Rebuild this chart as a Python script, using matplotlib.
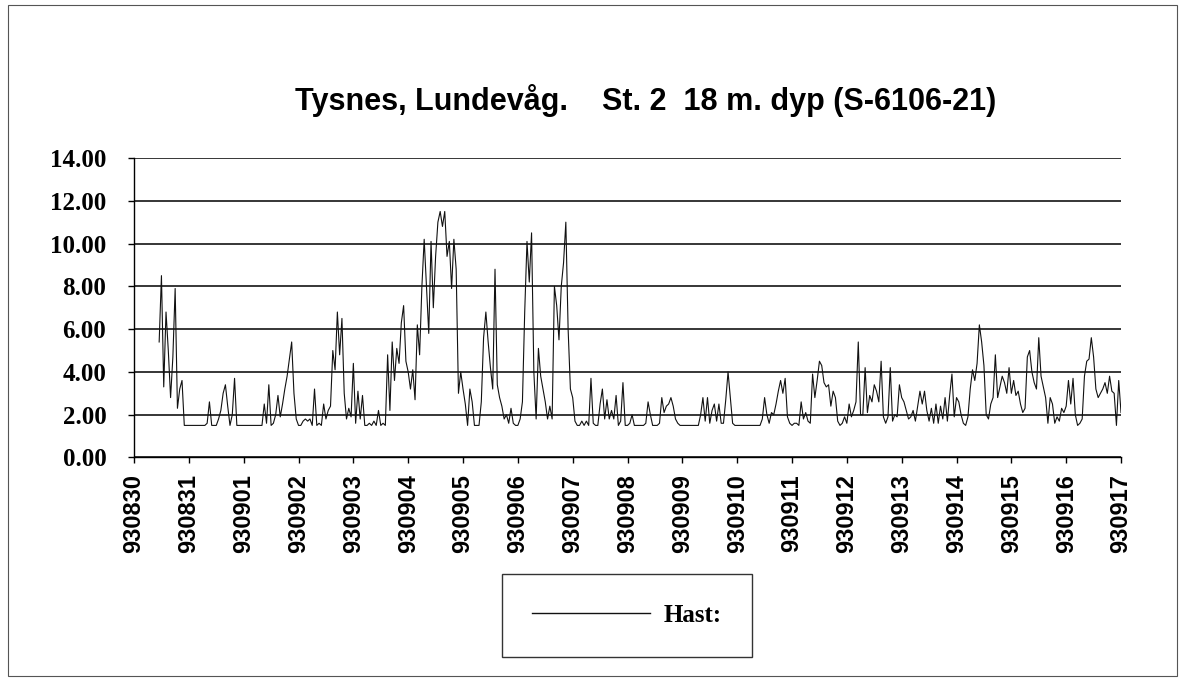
import numpy as np
import matplotlib
matplotlib.use("Agg")
import matplotlib.pyplot as plt
from matplotlib.patches import Rectangle

# hourly current speed readings (Hast:), first day starts at 11:00
start_hour = 11
d0830 = [5.4, 8.5, 3.3, 6.8, 5.0, 2.8, 4.7, 7.9, 2.3, 3.2, 3.6, 1.5, 1.5]
d0831 = [1.5] * 8 + [1.6, 2.6, 1.5, 1.5, 1.5, 1.8, 2.2, 3.0, 3.4, 2.4, 1.5, 2.0, 3.7, 1.5, 1.5, 1.5]
d0901 = [1.5] * 8 + [1.5, 2.5, 1.6, 3.4, 1.5, 1.6, 2.0, 2.9, 1.9, 2.5, 3.2, 3.8, 4.6, 5.4, 3.0, 1.8]
d0902 = [1.5, 1.5, 1.7, 1.8, 1.7, 1.8, 1.5, 3.2, 1.5, 1.6, 1.5, 2.5, 1.8, 2.2, 2.4, 5.0, 4.1, 6.8, 4.8, 6.5, 3.0, 1.8, 2.3, 1.9]
d0903 = [4.4, 1.6, 3.1, 1.8, 2.9, 1.5, 1.5, 1.6, 1.5, 1.7, 1.5, 2.2, 1.5, 1.6, 1.5, 4.8, 2.2, 5.4, 3.6, 5.1, 4.4, 6.3, 7.1, 4.5]
d0904 = [4.0, 3.2, 4.1, 2.7, 6.2, 4.8, 8.0, 10.2, 8.0, 5.8, 10.1, 7.0, 9.4, 11.0, 11.5, 10.8, 11.5, 9.4, 10.1, 7.9, 10.2, 8.8, 3.0, 4.0]
d0905 = [3.2, 2.5, 1.5, 3.2, 2.6, 1.5, 1.5, 1.5, 2.6, 5.6, 6.8, 5.4, 4.2, 3.2, 8.8, 3.4, 2.8, 2.4, 1.8, 2.0, 1.6, 2.3, 1.6, 1.5]
d0906 = [1.5, 1.8, 2.6, 6.8, 10.1, 8.2, 10.5, 4.0, 1.8, 5.1, 3.8, 3.2, 2.6, 1.8, 2.4, 1.8, 8.0, 7.1, 5.5, 8.0, 9.1, 11.0, 6.0, 3.2]
d0907 = [2.8, 1.7, 1.5, 1.5, 1.7, 1.5, 1.7, 1.5, 3.7, 1.6, 1.5, 1.5, 2.5, 3.2, 1.8, 2.7, 1.8, 2.2, 1.8, 2.9, 1.5, 1.7, 3.5, 1.5]
d0908 = [1.5, 1.6, 2.0, 1.5, 1.5, 1.5, 1.5, 1.5, 1.6, 2.6, 2.0, 1.5, 1.5, 1.5, 1.6, 2.8, 2.1, 2.4, 2.5, 2.8, 2.4, 1.8, 1.6, 1.5]
d0909 = [1.5] * 7 + [1.5, 2.0, 2.8, 1.7, 2.8, 1.6, 2.2, 2.5, 1.7, 2.5, 1.6, 1.6, 2.7, 4.0, 2.8, 1.6, 1.5]
d0910 = [1.5] * 11 + [1.8, 2.8, 2.0, 1.6, 2.1, 2.0, 2.5, 3.1, 3.6, 3.0, 3.7, 1.9, 1.6]
d0911 = [1.5, 1.6, 1.6, 1.5, 2.6, 1.8, 2.1, 1.7, 1.6, 3.9, 2.8, 3.6, 4.5, 4.3, 3.5, 3.3, 3.4, 2.4, 3.1, 2.8, 1.7, 1.5, 1.6, 1.9]
d0912 = [1.6, 2.5, 1.9, 2.2, 2.6, 5.4, 2.0, 2.0, 4.2, 2.1, 2.9, 2.6, 3.4, 3.1, 2.6, 4.5, 1.9, 1.6, 1.9, 4.2, 1.7, 2.0, 1.9, 3.4]
d0913 = [2.8, 2.6, 2.2, 1.8, 1.9, 2.2, 1.7, 2.4, 3.1, 2.5, 3.1, 2.2, 1.7, 2.3, 1.6, 2.5, 1.6, 2.4, 1.8, 2.8, 1.7, 2.9, 3.9, 1.9]
d0914 = [2.8, 2.6, 2.0, 1.6, 1.5, 1.9, 3.2, 4.1, 3.6, 4.4, 6.2, 5.4, 4.3, 2.0, 1.8, 2.5, 2.8, 4.8, 2.8, 3.3, 3.8, 3.5, 3.0, 4.2]
d0915 = [3.0, 3.6, 2.9, 3.1, 2.5, 2.1, 2.3, 4.7, 5.0, 4.0, 3.5, 3.2, 5.6, 3.8, 3.3, 2.8, 1.6, 2.8, 2.5, 1.6, 1.9, 1.7, 2.3, 2.1]
d0916 = [2.4, 3.6, 2.5, 3.7, 2.0, 1.5, 1.6, 1.8, 3.8, 4.5, 4.6, 5.6, 4.7, 3.2, 2.8, 3.0, 3.2, 3.5, 3.0, 3.8, 3.1, 3.0, 1.5, 3.6]
d0917 = [2.1]

date_labels = ["930830", "930831", "930901", "930902", "930903", "930904", "930905",
               "930906", "930907", "930908", "930909", "930910", "930911", "930912",
               "930913", "930914", "930915", "930916", "930917"]

speed = np.array(d0830 + d0831 + d0901 + d0902 + d0903 + d0904 + d0905 + d0906 + d0907
                 + d0908 + d0909 + d0910 + d0911 + d0912 + d0913 + d0914 + d0915 + d0916 + d0917)
t = (start_hour + np.arange(len(speed))) / 24.0

fig = plt.figure(figsize=(11.84, 6.81), dpi=100)
fig.patch.set_facecolor("white")
fig.patches.append(Rectangle((0.0068, 0.0073), 0.9873, 0.9854, transform=fig.transFigure,
                             fill=False, edgecolor="#555555", linewidth=0.8))

ax = fig.add_axes([0.1132, 0.3282, 0.8336, 0.4398])
line, = ax.plot(t, speed, color="#111111", linewidth=0.8, label="Hast:")

ax.set_xlim(0, 18)
ax.set_ylim(0, 14)
ax.set_yticks(np.arange(0, 15, 2))
ax.set_yticklabels(["%.2f" % v for v in np.arange(0, 15, 2)],
                   fontfamily="Liberation Serif", fontweight="bold", fontsize=18)
ax.set_xticks(np.arange(len(date_labels)))
ax.set_xticklabels(date_labels, rotation=90, fontfamily="Liberation Sans",
                   fontweight="bold", fontsize=17)
ax.tick_params(axis="both", direction="out", length=4, width=1, color="black")
ax.tick_params(axis="y", pad=16)
ax.tick_params(axis="x", pad=8)

ax.grid(axis="y", color="black", linewidth=1.1)
ax.set_axisbelow(True)
for side in ["top", "right"]:
    ax.spines[side].set_visible(False)
for side in ["left", "bottom"]:
    ax.spines[side].set_color("black")
    ax.spines[side].set_linewidth(1.0)

fig.text(0.545, 0.853, "Tysnes, Lundevåg.    St. 2  18 m. dyp (S-6106-21)",
         ha="center", va="center", fontsize=22, fontweight="bold", family="Liberation Sans")

leg = ax.legend(handles=[line], loc="center", bbox_to_anchor=(627 / 1184, 1 - 615 / 681),
                bbox_transform=fig.transFigure, frameon=True, fancybox=False,
                handlelength=4.7, handletextpad=0.55, borderpad=1.2,
                prop={"family": "Liberation Serif", "weight": "bold", "size": 18})
leg.get_frame().set_edgecolor("black")
leg.get_frame().set_linewidth(1.0)
leg.get_lines()[0].set_linewidth(1.0)

fig.savefig("out.png", dpi=100)
